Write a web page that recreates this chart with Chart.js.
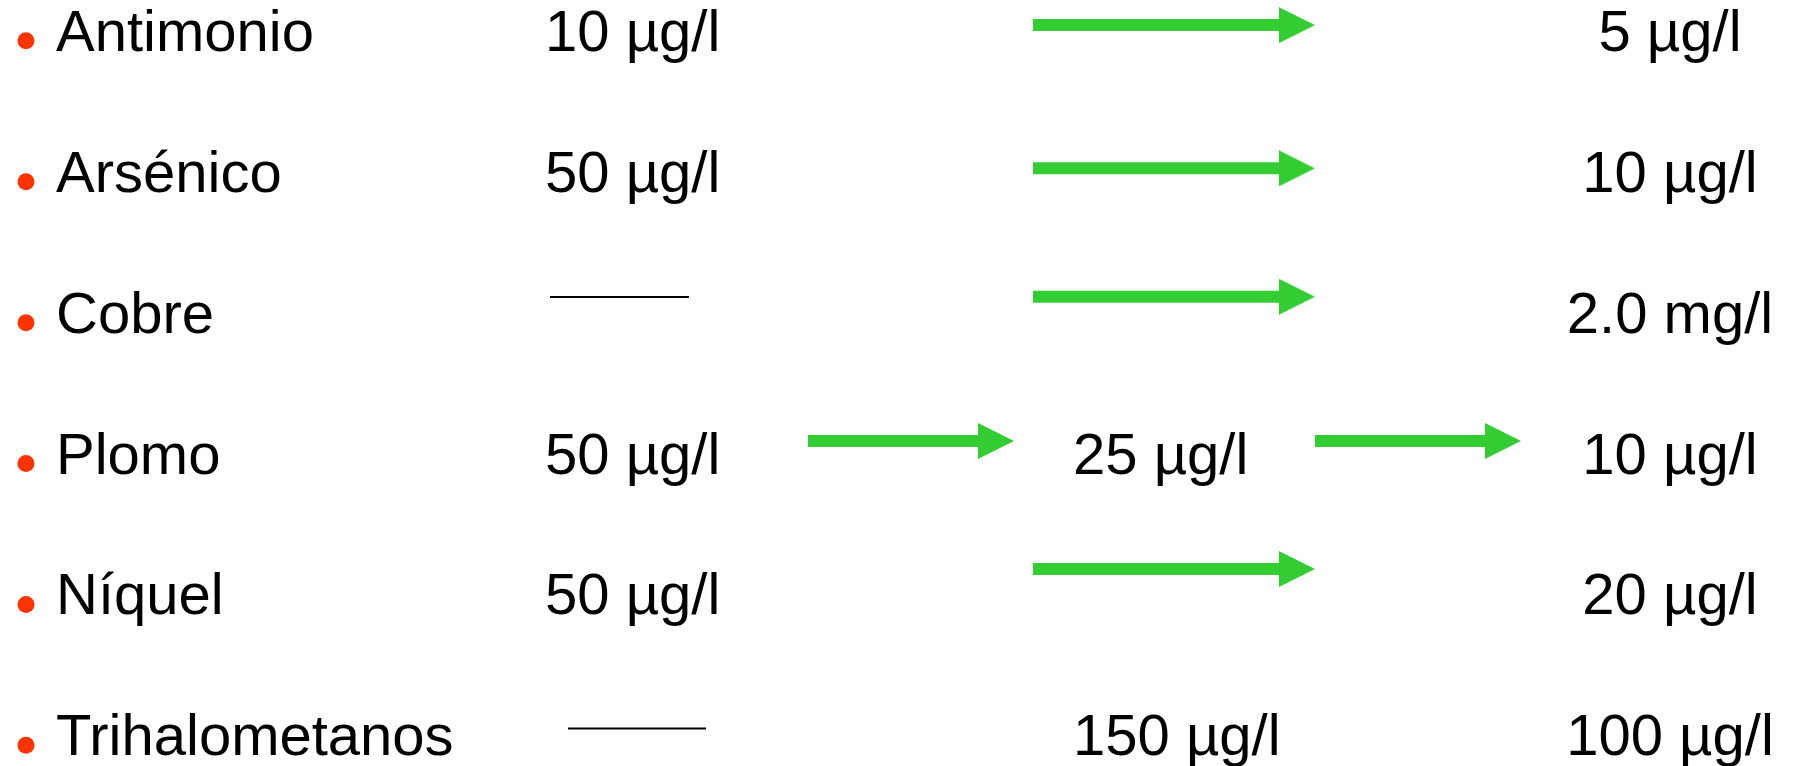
<!DOCTYPE html>
<html lang="es">
<head>
  <meta charset="UTF-8">
  <title>Límites</title>
  <style>
    html, body { margin: 0; padding: 0; background: #fff; overflow: hidden; }
    .wrapper { width: 1796px; height: 766px; }
  </style>
</head>
<body>
  <div class="wrapper">
    <canvas id="limitsChart" width="1796" height="766"></canvas>
  </div>

  <script src="https://cdn.jsdelivr.net/npm/chart.js"></script>
  <script>
    // values
    const substances = ['Antimonio', 'Arsénico', 'Cobre', 'Plomo', 'Níquel', 'Trihalometanos']
    const limitBefore = ['10 µg/l', '50 µg/l', null, '50 µg/l', '50 µg/l', null]   // null = dash
    const limitMid = [null, null, null, '25 µg/l', null, '150 µg/l']
    const limitAfter = ['5 µg/l', '10 µg/l', '2.0 mg/l', '10 µg/l', '20 µg/l', '100 µg/l']

    // layout (x in slide units, y in rows)
    const colX = { bullet: 26, name: 56, before: 545, mid: 1073, after: 1670 }
    const arrows = [
      { row: 0, from: 1033, to: 1315, dy: -0.035 },
      { row: 1, from: 1033, to: 1315, dy: -0.018 },
      { row: 2, from: 1033, to: 1315, dy: -0.107 },
      { row: 3, from: 808, to: 1014, dy: -0.083 },
      { row: 3, from: 1315, to: 1521, dy: -0.083 },
      { row: 4, from: 1033, to: 1315, dy: -0.175 }
    ]
    const dashes = { 2: { from: 550, to: 689, dy: -0.105 }, 5: { from: 568, to: 706, dy: -0.043 } }

    const green = '#33cc33'
    const bulletColor = '#ff3300'
    const fontSize = 58
    const font = fontSize + 'px "Liberation Sans", Arial, sans-serif'

    // arrow head as an image point style
    const head = document.createElement('canvas')
    head.width = 36; head.height = 36
    const hctx = head.getContext('2d')
    hctx.fillStyle = green
    hctx.beginPath()
    hctx.moveTo(0, 0); hctx.lineTo(36, 18); hctx.lineTo(0, 36)
    hctx.closePath(); hctx.fill()

    const datasets = []

    datasets.push({
      type: 'scatter',
      data: substances.map((s, i) => ({ x: colX.bullet, y: i + 0.077 })),
      pointStyle: 'circle',
      pointRadius: 8.5,
      backgroundColor: bulletColor,
      borderWidth: 0
    })

    arrows.forEach(a => {
      datasets.push({
        type: 'line',
        data: [{ x: a.from, y: a.row + a.dy }, { x: a.to - 18, y: a.row + a.dy }],
        borderColor: green,
        borderWidth: 12,
        borderCapStyle: 'butt',
        pointStyle: ctx => ctx.dataIndex === 1 ? head : false,
        pointRadius: ctx => ctx.dataIndex === 1 ? 18 : 0,
        fill: false
      })
    })

    limitBefore.forEach((v, i) => {
      if (v !== null || !dashes[i]) return
      const d = dashes[i]
      datasets.push({
        type: 'line',
        data: [{ x: d.from, y: i + d.dy }, { x: d.to, y: i + d.dy }],
        borderColor: '#000',
        borderWidth: 2,
        pointRadius: 0,
        fill: false
      })
    })

    const textPlugin = {
      id: 'rowText',
      afterDatasetsDraw(chart) {
        const c = chart.ctx
        const xs = chart.scales.x, ys = chart.scales.y
        c.save()
        c.font = font
        c.fillStyle = '#000'
        c.textBaseline = 'alphabetic'
        substances.forEach((name, i) => {
          const base = ys.getPixelForValue(i) + fontSize * 0.36
          c.textAlign = 'left'
          c.fillText(name, xs.getPixelForValue(colX.name), base)
          if (limitBefore[i]) c.fillText(limitBefore[i], xs.getPixelForValue(colX.before), base)
          if (limitMid[i]) c.fillText(limitMid[i], xs.getPixelForValue(colX.mid), base)
          c.textAlign = 'center'
          if (limitAfter[i]) c.fillText(limitAfter[i], xs.getPixelForValue(colX.after), base)
        })
        c.restore()
      }
    }

    const limitsChart = new Chart(document.getElementById('limitsChart'), {
      type: 'scatter',
      data: { datasets: datasets },
      options: {
        responsive: false,
        animation: false,
        layout: { padding: 0, autoPadding: false },
        plugins: { legend: { display: false }, tooltip: { enabled: false } },
        scales: {
          x: { type: 'linear', min: 0, max: 1796, display: false },
          y: { type: 'linear', reverse: true, min: -0.2129, max: 5.2236, display: false }
        }
      },
      plugins: [textPlugin]
    })
  </script>
</body>
</html>
